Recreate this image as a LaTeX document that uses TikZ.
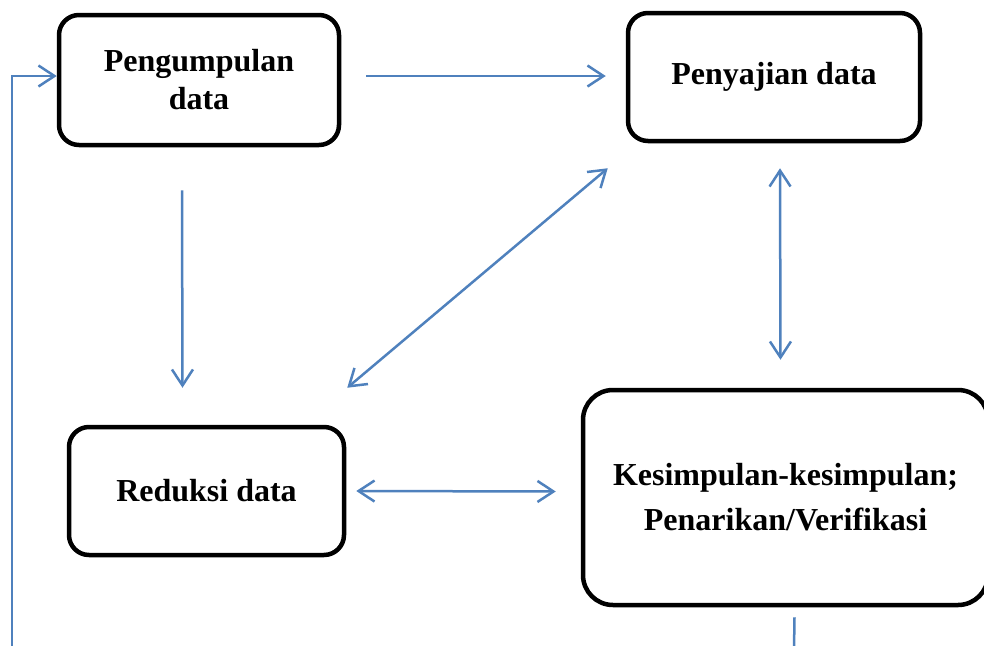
\documentclass[tikz,border=0pt]{standalone}
\usepackage{fontspec}
\setmainfont{Liberation Serif}
\usetikzlibrary{arrows.meta,calc}
\definecolor{lineblue}{RGB}{79,129,189}
\begin{document}
\begin{tikzpicture}[x=1pt,y=-1pt,
  box/.style={draw=black,line width=4.5pt,rounded corners=20pt,inner sep=0pt,align=center,
    font=\fontsize{32}{38}\selectfont\bfseries},
  arr/.style={draw=lineblue,line width=2.5pt,-{Straight Barb[length=16pt,width=21pt]}},
  darr/.style={draw=lineblue,line width=2.5pt,{Straight Barb[length=16pt,width=21pt]}-{Straight Barb[length=16pt,width=21pt]}},
  plain/.style={draw=lineblue,line width=2.5pt}]
\useasboundingbox (0,0) rectangle (984,645);
\clip (0,0) rectangle (984,645);
\node[box,minimum width=280pt,minimum height=130pt] (peng) at (199,80) {Pengumpulan\\data};
\node[box,minimum width=292pt,minimum height=128pt] (peny) at (774,77) {Penyajian data};
\node[box,minimum width=275pt,minimum height=128pt] (red) at (206.5,491) {Reduksi data};
\node[box,minimum width=405pt,minimum height=215pt,rounded corners=30pt,
  font=\fontsize{32}{45}\selectfont\bfseries] (kes) at (785.5,497.5) {\raisebox{-3pt}{Kesimpulan-kesimpulan;}\\\raisebox{-3pt}{Penarikan/Verifikasi}};
\coordinate (fb) at (12,650);
\coordinate (fbend) at (794,650);
\draw[arr] ($(peng.east)+(25,-4)$) -- ($(peny.west)+(-20,-1)$);
\draw[arr] ($(peng.south)+(-17,43)$) -- ($(red.north)+(-24,-37)$);
\draw[darr] ($(peny.south west)+(-18,25)$) -- ($(red.north east)+(1,-37)$);
\draw[darr] ($(peny.south)+(6,25)$) -- ($(kes.north)+(-5,-28)$);
\draw[darr] ($(red.east)+(10,0)$) -- ($(kes.west)+(-25,-6)$);
\draw[arr] (fb) |- ($(peng.west)+(0,-4)$);
\draw[plain] ($(kes.south)+(9,10)$) -- (fbend);
\end{tikzpicture}
\end{document}
